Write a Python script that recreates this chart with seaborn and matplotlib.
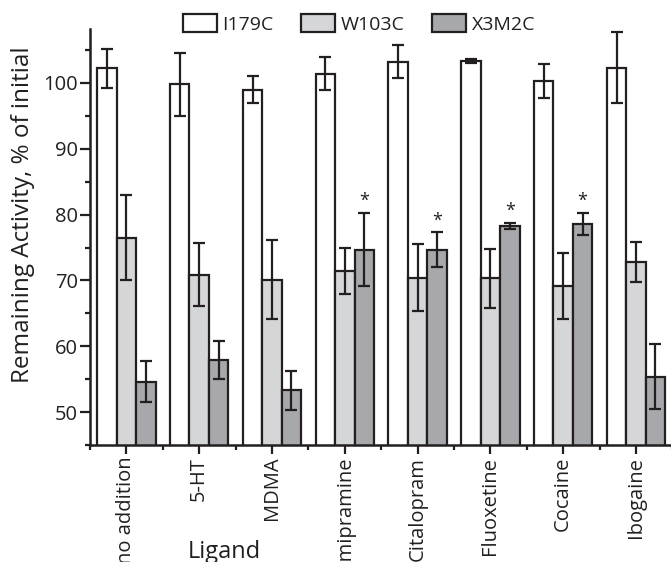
import numpy as np
import pandas as pd
import matplotlib
matplotlib.use("Agg")
import matplotlib.pyplot as plt
import seaborn as sns
from matplotlib.ticker import MultipleLocator
from matplotlib.patches import Patch

ligands = ["no addition", "5-HT", "MDMA", "Imipramine", "Citalopram",
           "Fluoxetine", "Cocaine", "Ibogaine"]
mutants = ["I179C", "W103C", "X3M2C"]
i179c = [102.2, 99.8, 99.0, 101.4, 103.2, 103.4, 100.3, 102.3]
i179c_err = [2.9, 4.8, 2.0, 2.5, 2.5, 0.3, 2.6, 5.4]
w103c = [76.5, 70.9, 70.1, 71.4, 70.4, 70.3, 69.2, 72.8]
w103c_err = [6.5, 4.8, 6.0, 3.5, 5.1, 4.5, 5.0, 3.0]
x3m2c = [54.6, 57.9, 53.3, 74.7, 74.7, 78.3, 78.6, 55.4]
x3m2c_err = [3.1, 2.9, 3.0, 5.6, 2.6, 0.5, 1.7, 5.0]
significant = [False, False, False, True, True, True, True, False]

colors = ["#ffffff", "#d5d6d8", "#a7a8ab"]
ink = "#231f20"

df = pd.DataFrame({
    "Ligand": ligands * 3,
    "Mutant": [m for m in mutants for _ in ligands],
    "Activity": i179c + w103c + x3m2c,
    "Err": i179c_err + w103c_err + x3m2c_err,
})

sns.set_style("ticks")
plt.rcParams["font.family"] = ["Open Sans", "DejaVu Sans"]

fig = plt.figure(figsize=(6.71, 5.62), dpi=100)
ax = fig.add_axes([90 / 671, 1 - 445 / 562, 582.4 / 671, (445 - 29) / 562])

sns.barplot(data=df, x="Ligand", y="Activity", hue="Mutant", order=ligands,
            hue_order=mutants, palette=colors, edgecolor=ink,
            linewidth=1.6, errorbar=None, width=0.8, ax=ax, legend=False,
            saturation=1)

w = 0.8 / 3
xs = np.arange(len(ligands))
for k, (vals, errs) in enumerate([(i179c, i179c_err), (w103c, w103c_err), (x3m2c, x3m2c_err)]):
    ax.errorbar(xs + (k - 1) * w, vals, yerr=errs, fmt="none", ecolor=ink,
                elinewidth=1.6, capsize=4.5, capthick=1.6, zorder=5)

for i, s in enumerate(significant):
    if s:
        ax.text(xs[i] + w, x3m2c[i] + x3m2c_err[i] + 0.4, "*", ha="center",
                va="bottom", fontsize=13, color=ink)

ax.set_ylim(45, 108.2)
ax.set_xlim(-0.5, 7.5)
ax.yaxis.set_minor_locator(MultipleLocator(5))
ax.set_yticks([50, 60, 70, 80, 90, 100])
ax.set_xticks(xs)
ax.set_xticks(np.arange(-0.5, 8.0, 1.0), minor=True)
ax.set_xticklabels(ligands, rotation=90, fontsize=14.5)
ax.tick_params(axis="y", labelsize=14.5, width=1.6, length=7, color=ink,
               labelcolor=ink, pad=1.5)
ax.tick_params(axis="y", which="minor", width=1.6, length=3.5, color=ink)
ax.tick_params(axis="x", width=1.6, length=6.5, color=ink, labelcolor=ink,
               pad=2)
ax.tick_params(axis="x", which="minor", width=1.6, length=3.5, color=ink)

for side in ["top", "right"]:
    ax.spines[side].set_visible(False)
for side in ["left", "bottom"]:
    ax.spines[side].set_linewidth(1.8)
    ax.spines[side].set_color(ink)

ax.set_ylabel("Remaining Activity, % of initial", fontsize=17.5, color=ink)
ax.yaxis.set_label_coords(-0.094, 0.553)
ax.set_xlabel("Ligand", fontsize=17, color=ink, va="baseline")
ax.xaxis.set_label_coords(0.230, -0.272)

handles = [Patch(facecolor=c, edgecolor=ink, linewidth=1.6) for c in colors]
fig.legend(handles, mutants, loc="center", bbox_to_anchor=(0.535, 0.957),
           ncol=3, frameon=False, fontsize=14, handlelength=1.75,
           handleheight=1.0, handletextpad=0.3, columnspacing=1.4,
           labelcolor=ink)

fig.savefig("out.png", dpi=100)
